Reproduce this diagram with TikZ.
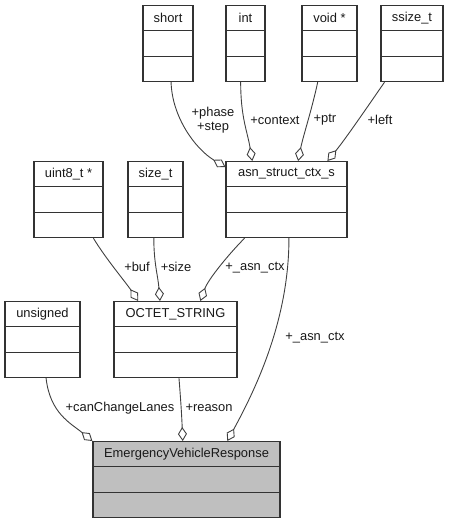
\documentclass[tikz,border=0pt]{standalone}
\usepackage{fontspec}
\setmainfont{Liberation Sans}
\usetikzlibrary{arrows.meta,calc}
\begin{document}
\begin{tikzpicture}[x=1pt,y=-1pt,
  clsbox/.style={draw=black!80,line width=1.2pt,rectangle,minimum height=76pt,inner sep=0pt,anchor=north},
  clstext/.style={font=\fontsize{12.9}{14}\selectfont,inner sep=0pt,text=black!90},
  lbl/.style={font=\fontsize{12.9}{14.5}\selectfont,inner sep=0pt,align=center,text=black!90},
  rel/.style={draw=black!75,line width=0.9pt,-{Diamond[open,length=14pt,width=9pt]}}
]
\useasboundingbox (0,0) rectangle (449,523);
\newcommand{\umlcls}[6]{%
  \node[clsbox,minimum width=#4,fill=#6] (#1) at (#2,#3) {};
  \draw[black!80,line width=1.2pt] ($(#1.north west)!1/3!(#1.south west)$) -- ($(#1.north east)!1/3!(#1.south east)$);
  \draw[black!80,line width=1.2pt] ($(#1.north west)!2/3!(#1.south west)$) -- ($(#1.north east)!2/3!(#1.south east)$);
  \node[clstext] (#1-t) at ($(#1.north)!1/6!(#1.south)$) {#5};
}
\umlcls{short}{168}{5}{50pt}{short}{white}
\umlcls{int}{245.5}{5}{39pt}{int}{white}
\umlcls{void}{329.5}{5}{55pt}{void *}{white}
\umlcls{ssize}{412}{5}{62pt}{ssize\_t}{white}
\umlcls{asn}{286.5}{161}{121pt}{asn\_struct\_ctx\_s}{white}
\umlcls{uint}{68.5}{161}{69pt}{uint8\_t *}{white}
\umlcls{sizet}{155.5}{161}{55pt}{size\_t}{white}
\umlcls{octet}{175.5}{301}{123pt}{OCTET\_STRING}{white}
\umlcls{unsigned}{42.5}{301}{75pt}{unsigned}{white}
\umlcls{evr}{186.5}{441}{187pt}{EmergencyVehicleResponse}{black!25}

% edges into asn_struct_ctx_s
\draw[rel] ($(short.south west)!0.56!(short.south east)$) .. controls +(1,35) and +(-30,-18) .. ($(asn.north west)+(0,6)$);
\draw[rel] ($(int.south west)!0.38!(int.south east)$) .. controls +(0,35) and +(-5,-30) .. ($(asn.north west)!0.22!(asn.north east)$);
\draw[rel] ($(void.south west)!0.29!(void.south east)$) .. controls +(-6,28) and +(5,-25) .. ($(asn.north west)!0.595!(asn.north east)$);
\draw[rel] ($(ssize.south west)!0.065!(ssize.south east)$) .. controls +(-18,26) and +(18,-22) .. ($(asn.north west)!0.835!(asn.north east)$);
% edges into OCTET_STRING
\draw[rel] ($(uint.south west)!0.855!(uint.south east)$) .. controls +(12,20) and +(-12,-18) .. ($(octet.north west)!0.2!(octet.north east)$);
\draw[rel] ($(sizet.south west)!0.47!(sizet.south east)$) .. controls +(0,25) and +(-2,-25) .. ($(octet.north west)!0.375!(octet.north east)$);
\draw[rel] ($(asn.south west)!0.157!(asn.south east)$) .. controls +(-15,15) and +(8,-22) .. ($(octet.north west)!0.70!(octet.north east)$);
% edges into EmergencyVehicleResponse
\draw[rel] ($(unsigned.south west)!0.547!(unsigned.south east)$) .. controls +(4,35) and +(-22,-18) .. (evr.north west);
\draw[rel] ($(octet.south west)!0.528!(octet.south east)$) .. controls +(2,25) and +(-1,-25) .. ($(evr.north west)!0.48!(evr.north east)$);
\draw[rel] ($(asn.south west)!0.52!(asn.south east)$) .. controls +(0,80) and +(30,-55) .. ($(evr.north west)!0.717!(evr.north east)$);

% labels
\node[lbl] (l1) at (213,120) {+phase\\+step};
\node[lbl] (l2) at (275,120) {+context};
\node[lbl] (l3) at (325,120) {+ptr};
\node[lbl] (l4) at (380,120) {+left};
\node[lbl] (l5) at (137,267) {+buf};
\node[lbl] (l6) at (176,267) {+size};
\node[lbl] (l7) at (255,268) {+\_asn\_ctx};
\node[lbl] (l8) at (315,338) {+\_asn\_ctx};
\node[lbl] (l9) at (120,408) {+canChangeLanes};
\node[lbl] (l10) at (209,408) {+reason};
\end{tikzpicture}
\end{document}
